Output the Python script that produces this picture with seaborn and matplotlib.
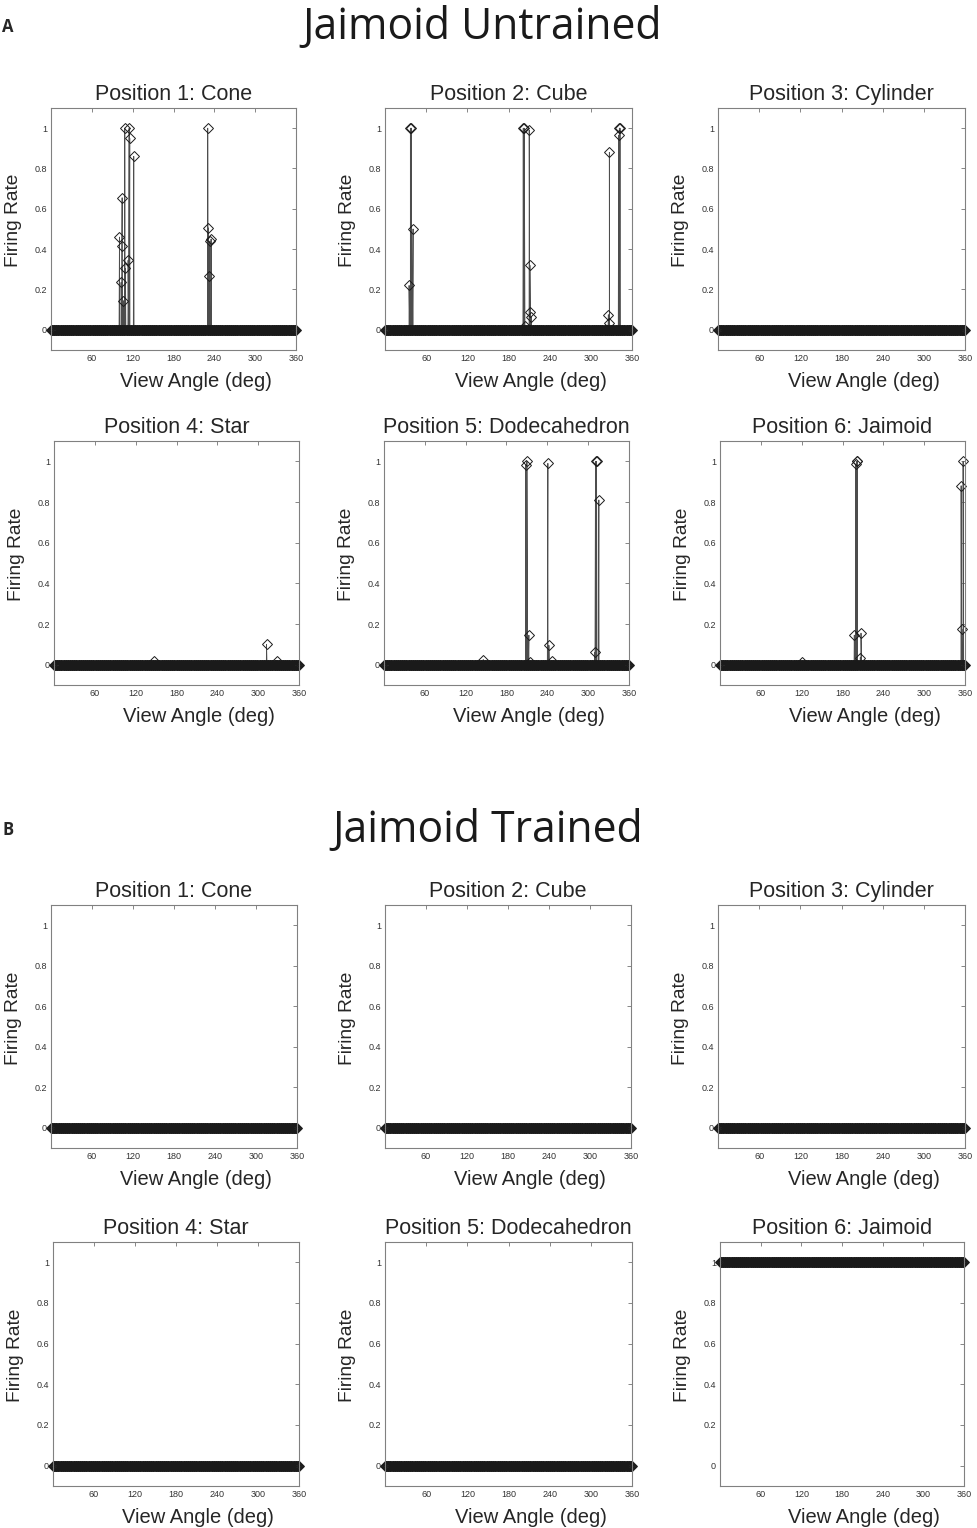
import numpy as np
import pandas as pd
import seaborn as sns
from matplotlib import pyplot as plt

# view angles sampled every degree
angles = np.arange(0, 361, 1)

titles = ["Position 1: Cone", "Position 2: Cube", "Position 3: Cylinder",
          "Position 4: Star", "Position 5: Dodecahedron", "Position 6: Jaimoid"]

# untrained: responses above zero (angle, firing rate)
cone_ang = [100.6, 103, 104, 104.5, 106, 108.4, 109.4, 113.3, 114.8, 115.7, 121.6, 230.3, 231.3, 232.7, 233.2, 235.2]
cone_rate = [0.46, 0.235, 0.415, 0.655, 0.145, 1.0, 0.305, 0.345, 1.0, 0.95, 0.86, 1.0, 0.505, 0.265, 0.44, 0.45]
cube_ang = [35.1, 37, 38.5, 40.9, 201.5, 203, 204, 210.2, 211.2, 211.7, 213.1, 325.5, 327, 327.2, 340.6, 341.6, 342.5]
cube_rate = [0.22, 1.0, 1.0, 0.5, 1.0, 1.0, 0.02, 0.99, 0.32, 0.09, 0.065, 0.075, 0.88, 0.035, 0.965, 1.0, 1.0]
cyl_ang = []
cyl_rate = []
star_ang = [146.8, 312.3, 327]
star_rate = [0.02, 0.1, 0.02]
dodec_ang = [145.8, 208, 210, 212.9, 213.9, 240.8, 242.3, 247.2, 309.4, 310.8, 312.3, 315.7]
dodec_rate = [0.025, 0.98, 1.0, 0.145, 0.015, 0.99, 0.095, 0.02, 0.06, 1.0, 1.0, 0.81]
jaim_ang = [120.9, 197.3, 199.3, 200.8, 201.7, 206.1, 207.2, 354.3, 355.3, 357.2, 359.2]
jaim_rate = [0.015, 0.145, 0.985, 1.0, 1.0, 0.035, 0.155, 0.88, 0.175, 1.0, 0.0]

untrained_peaks = [(cone_ang, cone_rate), (cube_ang, cube_rate), (cyl_ang, cyl_rate),
                   (star_ang, star_rate), (dodec_ang, dodec_rate), (jaim_ang, jaim_rate)]

# trained: flat responses
trained_level = [0, 0, 0, 0, 0, 1]

xticks = [60, 120, 180, 240, 300, 360]
yticks = [0, 0.2, 0.4, 0.6, 0.8, 1]
ytick_labels = ["0", "0.2", "0.4", "0.6", "0.8", "1"]

sns.set_style('white')
plt.rcParams['font.family'] = ['Liberation Sans', 'DejaVu Sans']

W, H = 977, 1528
fig = plt.figure(figsize=(W / 100, H / 100), dpi=100)

rows = [(108, 350), (441, 685), (905, 1148), (1242, 1486)]
cols = [[(51, 296), (385, 632), (718, 965)],
        [(54, 299), (384, 629), (720, 965)],
        [(51, 297), (385, 631), (718, 965)],
        [(53, 299), (385, 632), (720, 964)]]


def make_ax(r, c):
    top, bot = rows[r]
    left, right = cols[r][c]
    return fig.add_axes([left / W, 1 - bot / H, (right - left) / W, (bot - top) / H])


def style(ax, title):
    ax.set_xlim(0, 360)
    ax.set_ylim(-0.1, 1.1)
    ax.set_xticks(xticks)
    ax.set_yticks(yticks)
    ax.set_yticklabels(ytick_labels)
    ax.tick_params(direction='in', length=3, width=0.6, labelsize=6.5, colors='0.45',
                   labelcolor='0.2', top=True, right=True, pad=3)
    for s in ax.spines.values():
        s.set_color('0.5')
        s.set_linewidth(0.8)
    ax.set_title(title, fontsize=15.5, pad=6)
    ax.set_xlabel("View Angle (deg)", fontsize=14.5)
    ax.set_ylabel("Firing Rate", fontsize=13.8)
    # the labels sit a little off-centre in the original
    ax.xaxis.set_label_coords(0.59, -0.092)
    ax.yaxis.set_label_coords(-0.118, 0.535)


def draw(ax, df):
    sns.lineplot(data=df, x="angle", y="rate", estimator=None, ax=ax,
                 color='0.3', lw=0.6, marker='D', markersize=5.5,
                 mfc='none', mec='0.1', mew=0.7, clip_on=False)


for i, (pa, pr) in enumerate(untrained_peaks):
    ax = make_ax(i // 3, i % 3)
    df = pd.concat([pd.DataFrame({"angle": angles, "rate": 0.0}),
                    pd.DataFrame({"angle": pa, "rate": pr})], ignore_index=True)
    draw(ax, df)
    style(ax, titles[i])

for i, lvl in enumerate(trained_level):
    ax = make_ax(2 + i // 3, i % 3)
    df = pd.DataFrame({"angle": angles, "rate": float(lvl)})
    draw(ax, df)
    style(ax, titles[i])

fig.text(482 / W, 1 - 39 / H, "Jaimoid Untrained", fontsize=30.7, family='Open Sans',
         ha='center', va='baseline', color='0.1')
fig.text(488 / W, 1 - 842 / H, "Jaimoid Trained", fontsize=30.7, family='Open Sans',
         ha='center', va='baseline', color='0.1')
fig.text(8 / W, 1 - 27 / H, "A", fontsize=12, fontweight='bold', family='Open Sans',
         ha='center', va='center')
fig.text(8 / W, 1 - 830 / H, "B", fontsize=12, fontweight='bold', family='Open Sans',
         ha='center', va='center')

fig.savefig("out.png", dpi=100)
